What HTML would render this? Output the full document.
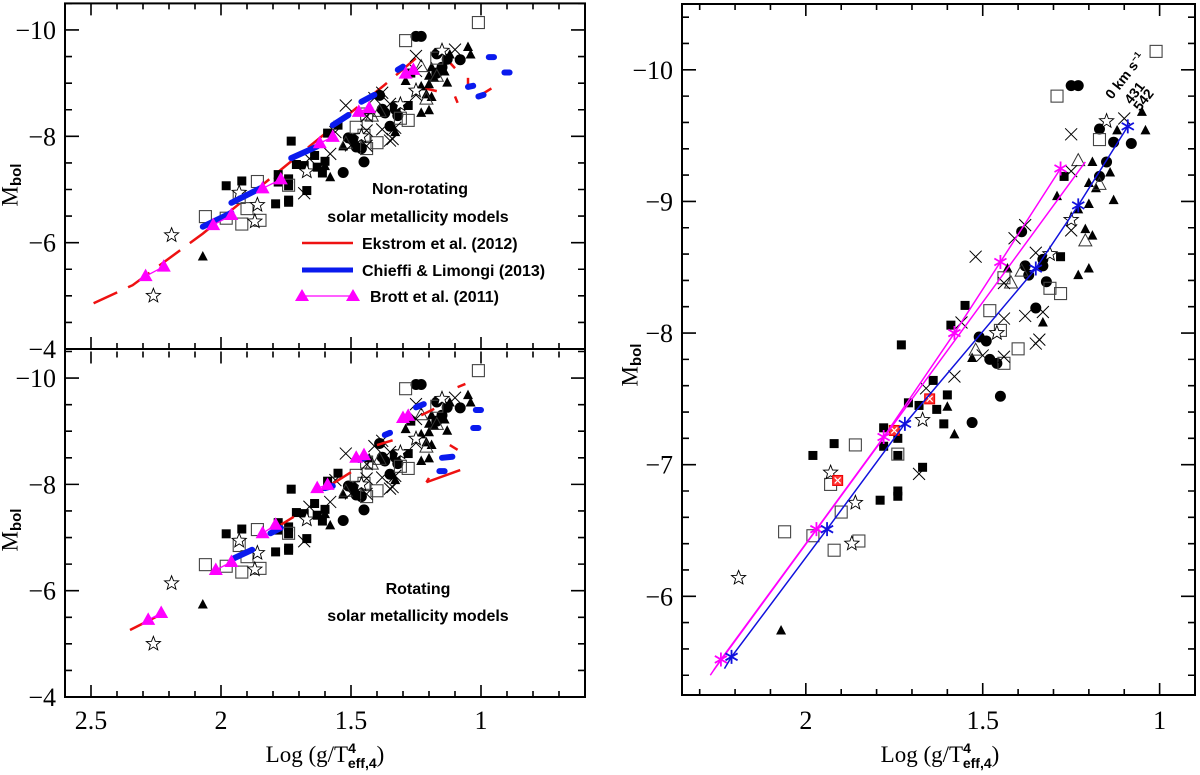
<!DOCTYPE html>
<html><head><meta charset="utf-8"><title>Mbol vs log(g/Teff^4)</title>
<style>
html,body{margin:0;padding:0;background:#fff;}
svg{display:block;font-family:"Liberation Serif",serif;}
.tk{font-size:26px;}
.lg{font-family:"Liberation Sans",sans-serif;font-size:16px;font-weight:bold;}
</style></head>
<body>
<svg id="chart" width="1200" height="775" viewBox="0 0 1200 775" xmlns="http://www.w3.org/2000/svg">
<defs>
<clipPath id="c1"><rect x="65" y="4" width="520" height="345"/></clipPath>
<clipPath id="c2"><rect x="65" y="349" width="520" height="348"/></clipPath>
<clipPath id="c3"><rect x="682" y="4" width="513" height="691"/></clipPath>
</defs>
<g id="layer"></g>
<g>
<text class="lg" x="420" y="194" text-anchor="middle">Non-rotating</text>
<text class="lg" x="418" y="222" text-anchor="middle">solar metallicity models</text>
<line x1="302" y1="243" x2="353" y2="243" stroke="#ee1111" stroke-width="2.5"/>
<text class="lg" x="362" y="249">Ekstrom et al. (2012)</text>
<line x1="302" y1="270" x2="353" y2="270" stroke="#0a1aee" stroke-width="5"/>
<text class="lg" x="362" y="276">Chieffi &amp; Limongi (2013)</text>
<line x1="302" y1="296" x2="353" y2="296" stroke="#ff00ff" stroke-width="1.2"/>
<polygon points="302,289 295,301 309,301" fill="#ff00ff"/>
<polygon points="353,289 346,301 360,301" fill="#ff00ff"/>
<text class="lg" x="370" y="302">Brott et al. (2011)</text>
</g>
<text class="lg" x="418" y="594" text-anchor="middle">Rotating</text>
<text class="lg" x="418" y="621" text-anchor="middle">solar metallicity models</text>
<text x="12" y="185" transform="rotate(-90 12 185)" text-anchor="middle" font-size="23" dominant-baseline="middle">M<tspan font-size="15" dy="5" font-family="Liberation Sans" font-weight="bold">bol</tspan></text>
<text x="12" y="530" transform="rotate(-90 12 530)" text-anchor="middle" font-size="23" dominant-baseline="middle">M<tspan font-size="15" dy="5" font-family="Liberation Sans" font-weight="bold">bol</tspan></text>
<text x="632" y="365" transform="rotate(-90 632 365)" text-anchor="middle" font-size="23" dominant-baseline="middle">M<tspan font-size="15" dy="5" font-family="Liberation Sans" font-weight="bold">bol</tspan></text>
<text x="325" y="762" text-anchor="middle" font-size="23">Log  (g/T<tspan font-size="14" dy="-9" font-family="Liberation Sans" font-weight="bold">4</tspan><tspan font-size="14" dx="-8" dy="15" font-family="Liberation Sans" font-weight="bold">eff,4</tspan><tspan dy="-6">)</tspan></text>
<text x="940" y="762" text-anchor="middle" font-size="23">Log  (g/T<tspan font-size="14" dy="-9" font-family="Liberation Sans" font-weight="bold">4</tspan><tspan font-size="14" dx="-8" dy="15" font-family="Liberation Sans" font-weight="bold">eff,4</tspan><tspan dy="-6">)</tspan></text>
<text x="1112" y="100" transform="rotate(-52 1112 100)" font-family="Liberation Sans" font-weight="bold" font-size="14">0 km s<tspan font-size="9" dy="-5">−1</tspan></text>
<text x="1131" y="105" transform="rotate(-52 1131 105)" font-family="Liberation Sans" font-weight="bold" font-size="14">431</text>
<text x="1140" y="112" transform="rotate(-52 1140 112)" font-family="Liberation Sans" font-weight="bold" font-size="14">542</text>
</svg>
<script>
const filledSquares = [[1.73,-7.91],[1.55,-8.21],[1.59,-8.06],[1.28,-8.58],[1.27,-9.19],[1.92,-7.16],[1.98,-7.07],[1.78,-7.28],[1.74,-7.20],[1.78,-7.14],[1.74,-7.07],[1.67,-6.98],[1.79,-6.73],[1.74,-6.80],[1.74,-6.76],[1.64,-7.64],[1.60,-7.53],[1.63,-7.42],[1.61,-7.31],[1.68,-7.45],[1.71,-7.47]];
const circles = [[1.25,-9.88],[1.23,-9.88],[1.13,-9.45],[1.08,-9.44],[1.15,-9.30],[1.17,-9.19],[1.39,-8.77],[1.38,-8.51],[1.37,-8.44],[1.33,-8.51],[1.33,-8.56],[1.32,-8.39],[1.35,-8.19],[1.51,-7.97],[1.49,-7.94],[1.48,-7.80],[1.46,-7.77],[1.45,-7.52],[1.17,-9.55],[1.53,-7.32]];
const filledTriangles = [[1.05,-9.68],[1.04,-9.54],[1.12,-9.54],[1.19,-9.30],[1.14,-9.22],[1.20,-9.14],[1.18,-9.10],[1.13,-9.01],[1.29,-9.04],[1.20,-8.98],[1.23,-8.94],[1.21,-8.79],[1.19,-8.74],[1.20,-8.49],[1.23,-8.44],[1.43,-8.49],[1.33,-8.08],[1.53,-7.81],[1.60,-7.44],[1.58,-7.23],[2.07,-5.74]];
const openSquares = [[1.01,-10.14],[1.29,-9.80],[1.17,-9.47],[1.48,-8.17],[1.45,-8.02],[1.44,-8.42],[1.31,-8.34],[1.28,-8.30],[1.40,-7.88],[1.44,-7.77],[1.86,-7.15],[1.74,-7.08],[1.93,-6.85],[1.90,-6.64],[2.06,-6.49],[1.98,-6.46],[1.92,-6.35],[1.85,-6.42]];
const openTriangles = [[1.23,-9.31],[1.21,-8.70],[1.39,-8.47],[1.42,-8.38],[1.52,-7.87],[1.17,-9.13]];
const crosses = [[1.25,-9.51],[1.10,-9.63],[1.25,-9.23],[1.38,-8.82],[1.41,-8.72],[1.25,-8.78],[1.52,-8.58],[1.35,-8.61],[1.44,-8.38],[1.44,-8.11],[1.38,-8.13],[1.33,-8.16],[1.35,-7.92],[1.34,-7.95],[1.56,-8.08],[1.50,-7.83],[1.58,-7.67],[1.44,-7.82],[1.66,-7.58],[1.68,-6.93]];
const stars = [[1.15,-9.61],[1.25,-8.86],[1.31,-8.60],[1.46,-8.00],[1.67,-7.34],[1.93,-6.94],[1.86,-6.71],[1.87,-6.40],[2.19,-6.14],[2.26,-5.00]];
const redBoxes = [[1.91,-6.88],[1.75,-7.26],[1.65,-7.50]];

const ekstromMain = [[2.49,-4.86],[2.34,-5.20],[2.07,-6.17],[1.37,-8.97],[1.25,-9.47]];
const ekstromHooks = [[[1.24,-8.93],[1.17,-8.85]],[[1.13,-9.44],[1.10,-9.28]],[[1.05,-9.10],[1.05,-8.98]],[[1.10,-8.75],[1.09,-8.63]],[[1.01,-8.75],[0.96,-8.90]]];
const chieffiNR = [[[2.07,-6.30],[1.96,-6.56]],[[1.96,-6.75],[1.85,-7.02]],[[1.73,-7.59],[1.63,-7.81]],[[1.57,-8.21],[1.51,-8.40]],[[1.46,-8.65],[1.41,-8.78]],[[1.32,-9.25],[1.30,-9.31]],[[1.05,-8.93],[1.03,-8.95]],[[1.01,-8.75],[0.99,-8.78]],[[0.97,-9.49],[0.95,-9.49]],[[0.91,-9.20],[0.89,-9.20]]];
const brottNR = [[[2.29,-5.37],[2.22,-5.55]],[[2.03,-6.33],[1.96,-6.52]],[[1.84,-7.02],[1.77,-7.19]],[[1.62,-7.87],[1.57,-7.99]],[[1.47,-8.46],[1.43,-8.53]],[[1.29,-9.18],[1.26,-9.25]]];

const ekstromRot = [[[2.35,-5.26],[2.22,-5.58]],[[1.77,-7.24],[1.72,-7.39]],[[1.61,-7.89],[1.50,-8.23]],[[1.40,-8.74],[1.34,-8.83]],[[1.23,-9.30],[1.18,-9.42]],[[1.09,-9.83],[1.06,-9.89]],[[1.12,-8.74],[1.09,-8.65]],[[1.21,-8.04],[1.08,-8.27]],[[1.21,-8.04],[1.20,-8.12]]];
const chieffiRot = [[[1.95,-6.61],[1.88,-6.77]],[[1.81,-7.08],[1.77,-7.18]],[[1.60,-7.93],[1.57,-7.97]],[[1.47,-8.46],[1.44,-8.51]],[[1.37,-8.93],[1.35,-8.97]],[[1.25,-9.45],[1.22,-9.51]],[[1.02,-9.40],[1.00,-9.40]],[[1.03,-9.06],[1.01,-9.06]],[[1.15,-8.50],[1.11,-8.52]],[[1.16,-8.25],[1.14,-8.25]]];
const brottRot = [[[2.28,-5.45],[2.23,-5.58]],[[2.02,-6.39],[1.96,-6.54]],[[1.84,-7.08],[1.79,-7.24]],[[1.63,-7.93],[1.59,-7.99]],[[1.48,-8.50],[1.45,-8.55]],[[1.30,-9.25],[1.28,-9.29]]];

const iso0 = [[2.27,-5.40],[2.24,-5.52],[1.97,-6.51],[1.78,-7.21],[1.58,-8.00],[1.45,-8.54],[1.28,-9.25]];
const iso0Marks = [[2.24,-5.52],[1.97,-6.51],[1.78,-7.21],[1.58,-8.00],[1.45,-8.54],[1.28,-9.25]];
const iso431 = [[2.26,-5.44],[1.21,-9.30]];
const iso542 = [[2.23,-5.45],[2.21,-5.54],[1.94,-6.51],[1.72,-7.31],[1.35,-8.49],[1.23,-8.97],[1.09,-9.57]];
const iso542Marks = [[2.21,-5.54],[1.94,-6.51],[1.72,-7.31],[1.35,-8.49],[1.23,-8.97],[1.09,-9.57]];

const leftXTicks = ["2.5","2","1.5","1"];
const leftXTickVals = [2.5,2,1.5,1];
const leftYTickVals = [-10,-8,-6,-4];
const rightXTickVals = [2,1.5,1];
const rightYTickVals = [-10,-9,-8,-7,-6];

const NS = "http://www.w3.org/2000/svg";
const layer = document.getElementById('layer');
function mk(tag, attrs, parent){const e=document.createElementNS(NS,tag);for(const k in attrs)e.setAttribute(k,attrs[k]);(parent||layer).appendChild(e);return e;}

const panels = {
  top:   {x0:65,x1:585,y0:3.4,y1:349,xa:2.6,xb:0.6,ya:-10.5,yb:-4,clip:'c1'},
  bot:   {x0:65,x1:585,y0:351.5,y1:697,xa:2.6,xb:0.6,ya:-10.5,yb:-4,clip:'c2'},
  right: {x0:682,x1:1195,y0:4,y1:695,xa:2.35,xb:0.9,ya:-10.5,yb:-5.25,clip:'c3'}
};
function sx(p,v){return p.x0+(v-p.xa)/(p.xb-p.xa)*(p.x1-p.x0);}
function sy(p,v){return p.y0+(v-p.ya)/(p.yb-p.ya)*(p.y1-p.y0);}

function drawMarkers(p, g){
  filledSquares.forEach(d=>{const x=sx(p,d[0]),y=sy(p,d[1]);
    const e=mk('rect',{x:x-4.5,y:y-4.5,width:9,height:9,fill:'#000'},g);
    
    });
  circles.forEach(d=>{const e=mk('circle',{cx:sx(p,d[0]),cy:sy(p,d[1]),r:5.5,fill:'#000'},g);
    
    });
  filledTriangles.forEach(d=>{const x=sx(p,d[0]),y=sy(p,d[1]);
    const e=mk('polygon',{points:`${x},${y-5.5} ${x-5},${y+4} ${x+5},${y+4}`,fill:'#000'},g);
    
    });
  openSquares.forEach(d=>{const x=sx(p,d[0]),y=sy(p,d[1]);
    const e=mk('rect',{x:x-6,y:y-6,width:12,height:12,fill:'none',stroke:'#444','stroke-width':1.1},g);
    
    });
  openTriangles.forEach(d=>{const x=sx(p,d[0]),y=sy(p,d[1]);
    const e=mk('polygon',{points:`${x},${y-7} ${x-6.5},${y+5} ${x+6.5},${y+5}`,fill:'none',stroke:'#333','stroke-width':1},g);
    
    });
  crosses.forEach(d=>{const x=sx(p,d[0]),y=sy(p,d[1]);
    const e=mk('path',{d:`M${x-6},${y-6}L${x+6},${y+6}M${x-6},${y+6}L${x+6},${y-6}`,stroke:'#000','stroke-width':1,fill:'none'},g);
    
    });
  stars.forEach(d=>{const x=sx(p,d[0]),y=sy(p,d[1]);let pts=[];
    for(let i=0;i<10;i++){const r=i%2?3.2:7.5,a=-Math.PI/2+i*Math.PI/5;pts.push((x+r*Math.cos(a)).toFixed(1)+','+(y+r*Math.sin(a)).toFixed(1));}
    const e=mk('polygon',{points:pts.join(' '),fill:'#fff',stroke:'#000','stroke-width':0.9},g);
    
    });
}
function seg(p,g,a,b,attrs,name){
  const e=mk('line',Object.assign({x1:sx(p,a[0]),y1:sy(p,a[1]),x2:sx(p,b[0]),y2:sy(p,b[1])},attrs),g);
  
  
  return e;
}
function poly(p,g,arr,attrs,name){
  const e=mk('polyline',Object.assign({points:arr.map(d=>sx(p,d[0])+','+sy(p,d[1])).join(' '),fill:'none'},attrs),g);
  
  
  return e;
}
function tri(p,g,d,name){const x=sx(p,d[0]),y=sy(p,d[1]);
  const e=mk('polygon',{points:`${x},${y-7.5} ${x-7},${y+5} ${x+7},${y+5}`,fill:'#ff00ff'},g);
  
  }
function asterisk(p,g,d,col,name){const x=sx(p,d[0]),y=sy(p,d[1]);let s='';
  for(let i=0;i<3;i++){const a=Math.PI/2+i*Math.PI/3;s+=`M${x-7*Math.cos(a)},${y-7*Math.sin(a)}L${x+7*Math.cos(a)},${y+7*Math.sin(a)}`;}
  const e=mk('path',{d:s,stroke:col,'stroke-width':1.8,fill:'none'},g);
  
  }

function frameAndTicks(p, opts, name){
  const g=mk('g',{});
  
  
  let d='';
  for(let v=Math.ceil(Math.min(p.xa,p.xb)*10);v<=Math.floor(Math.max(p.xa,p.xb)*10+1e-6);v++){
    const x=sx(p,v/10);const maj=(v%5===0);const L=maj?12:6;
    d+=`M${x},${p.y1}V${p.y1-L}M${x},${p.y0}V${p.y0+L}`;
  }
  const ys=opts.yMinor;
  for(let v=Math.ceil(p.ya/ys-1e-6);v<=Math.floor(p.yb/ys+1e-6);v++){
    const val=v*ys;const y=sy(p,val);const maj=Math.abs(val/opts.yMajor-Math.round(val/opts.yMajor))<1e-6;const L=maj?14:7;
    d+=`M${p.x0},${y}H${p.x0+L}M${p.x1},${y}H${p.x1-L}`;
  }
  const t=mk('path',{d:d,stroke:'#000','stroke-width':1.6,fill:'none'},g);
  
  
  const r=mk('rect',{x:p.x0,y:p.y0<5?p.y0:349,width:p.x1-p.x0,height:p.y1-(p.y0<5?p.y0:349),fill:'none',stroke:'#000','stroke-width':2},g);
  
  
  return g;
}

function panelGroup(p,name){const g=mk('g',{'clip-path':`url(#${p.clip})`});
  
  return g;}

const gT=panelGroup(panels.top,'panel-nonrotating');
poly(panels.top,gT,ekstromMain,{stroke:'#ee1111','stroke-width':2.5,'stroke-dasharray':'26 12'},'ekstrom-track');
ekstromHooks.forEach(s=>seg(panels.top,gT,s[0],s[1],{stroke:'#ee1111','stroke-width':2.5},'ekstrom-hook'));
drawMarkers(panels.top,gT);
chieffiNR.forEach(s=>seg(panels.top,gT,s[0],s[1],{stroke:'#0a1aee','stroke-width':6,'stroke-linecap':'round'},'chieffi-segment'));
brottNR.forEach(s=>{seg(panels.top,gT,s[0],s[1],{stroke:'#ff00ff','stroke-width':1.3},'brott-segment');tri(panels.top,gT,s[0],'brott-point');tri(panels.top,gT,s[1],'brott-point');});

const gB=panelGroup(panels.bot,'panel-rotating');
drawMarkers(panels.bot,gB);
ekstromRot.forEach(s=>seg(panels.bot,gB,s[0],s[1],{stroke:'#ee1111','stroke-width':2.5},'ekstrom-rot-segment'));
chieffiRot.forEach(s=>seg(panels.bot,gB,s[0],s[1],{stroke:'#0a1aee','stroke-width':6,'stroke-linecap':'round'},'chieffi-rot-segment'));
brottRot.forEach(s=>{seg(panels.bot,gB,s[0],s[1],{stroke:'#ff00ff','stroke-width':1.3},'brott-rot-segment');tri(panels.bot,gB,s[0],'brott-rot-point');tri(panels.bot,gB,s[1],'brott-rot-point');});

const gR=panelGroup(panels.right,'panel-isochrones');
drawMarkers(panels.right,gR);
redBoxes.forEach(d=>{const p=panels.right,x=sx(p,d[0]),y=sy(p,d[1]);
  const e=mk('rect',{x:x-5,y:y-5,width:10,height:10,fill:'#f33',stroke:'#e00','stroke-width':1},gR);
  
  
  const c=mk('path',{d:`M${x-3},${y-3}L${x+3},${y+3}M${x-3},${y+3}L${x+3},${y-3}`,stroke:'#fff','stroke-width':1.2},gR);
  
  });
poly(panels.right,gR,iso0,{stroke:'#ff00ff','stroke-width':1.5},'isochrone-0kms');
poly(panels.right,gR,iso431,{stroke:'#ff00ff','stroke-width':1.5},'isochrone-431kms');
poly(panels.right,gR,iso542,{stroke:'#1111dd','stroke-width':1.5},'isochrone-542kms');
iso0Marks.forEach(d=>asterisk(panels.right,gR,d,'#ff00ff','isochrone-0kms-point'));
iso542Marks.forEach(d=>asterisk(panels.right,gR,d,'#1111dd','isochrone-542kms-point'));

frameAndTicks(panels.top,{yMinor:0.5,yMajor:2},'top-left');
frameAndTicks(panels.bot,{yMinor:0.5,yMajor:2},'bottom-left');
frameAndTicks(panels.right,{yMinor:0.2,yMajor:1},'right');

function tl(x,y,txt,anchor,name){const e=mk('text',{x:x,y:y,'text-anchor':anchor,class:'tk'});e.textContent=txt;
  
  }
leftXTickVals.forEach((v,i)=>tl(sx(panels.bot,v),729,leftXTicks[i],'middle','x-tick-label-left'));
rightXTickVals.forEach(v=>tl(sx(panels.right,v),729,String(v),'middle','x-tick-label-right'));
leftYTickVals.forEach(v=>tl(56,sy(panels.top,v)+9,'−'+Math.abs(v),'end','y-tick-label-top'));
leftYTickVals.forEach(v=>tl(56,sy(panels.bot,v)+9,'−'+Math.abs(v),'end','y-tick-label-bottom'));
rightYTickVals.forEach(v=>tl(673,sy(panels.right,v)+9,'−'+Math.abs(v),'end','y-tick-label-right'));
</script>
</body></html>
